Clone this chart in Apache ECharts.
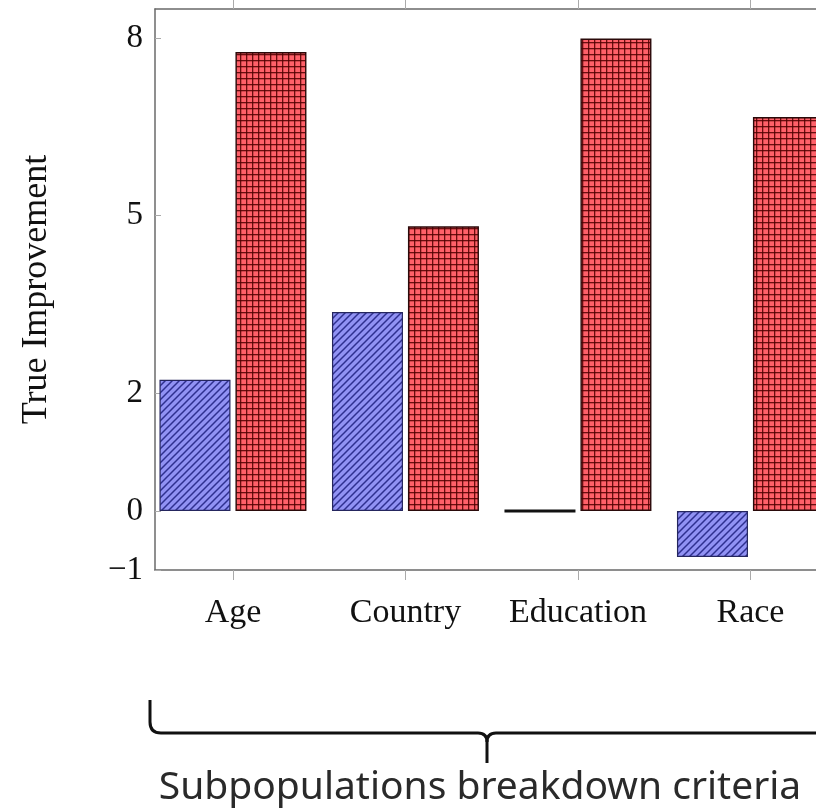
<!DOCTYPE html>
<html>
<head>
<meta charset="utf-8">
<script src="https://cdn.jsdelivr.net/npm/echarts@6/dist/echarts.min.js"></script>
<style>
html,body{margin:0;padding:0;background:#fff;overflow:hidden;}
#chart{width:816px;height:811px;}
</style>
</head>
<body>
<div id="chart"></div>
<script>
// ---- data ----
const categories = ['Age', 'Country', 'Education', 'Race'];
const blueValues = [2.22, 3.37, 0, -0.78];
const redValues = [7.77, 4.82, 8.0, 6.67];
const yTickValues = [-1, 0, 2, 5, 8];
const yAxisTitle = 'True Improvement';
const annotation = 'Subpopulations breakdown criteria';

// ---- patterns ----
function hatchPattern() {
  const s = 7;
  const c = document.createElement('canvas');
  c.width = s; c.height = s;
  const g = c.getContext('2d');
  g.fillStyle = '#9192f4';
  g.fillRect(0, 0, s, s);
  g.strokeStyle = '#2f3090';
  g.lineWidth = 1.5;
  g.beginPath();
  g.moveTo(-1, s + 1); g.lineTo(s + 1, -1);
  g.moveTo(-1, 1); g.lineTo(1, -1);
  g.moveTo(s - 1, s + 1); g.lineTo(s + 1, s - 1);
  g.stroke();
  return c;
}
function gridPattern() {
  const s = 12;
  const c = document.createElement('canvas');
  c.width = s; c.height = s;
  const g = c.getContext('2d');
  g.fillStyle = '#ff6069';
  g.fillRect(0, 0, s, s);
  g.fillStyle = 'rgba(80,0,0,0.85)';
  g.fillRect(0, 0, s, 1.3);
  g.fillRect(0, 6, s, 1.3);
  g.fillRect(0, 0, 1.3, s);
  g.fillRect(6, 0, 1.3, s);
  return c;
}

const chart = echarts.init(document.getElementById('chart'), null, {renderer: 'canvas'});
const xMin = -0.452, xMax = 3.38;
const idx = categories.map((c, i) => i);
const serif = 'Liberation Serif';
const braceStyle = {stroke: '#111', lineWidth: 3, fill: null};

function barItems(values) {
  return values.map((v, i) => v === 0
    ? {value: [i, v], itemStyle: {borderColor: '#111', borderWidth: 3}}
    : {value: [i, v]});
}

const option = {
  animation: false,
  grid: {left: 155, right: 0, top: 9, bottom: 241, containLabel: false},
  xAxis: [
    {
      type: 'value', min: xMin, max: xMax, position: 'bottom',
      axisLine: {show: true, onZero: false, lineStyle: {color: '#6a6a6a', width: 1.5}},
      axisTick: {show: true, inside: false, length: 10, customValues: idx, lineStyle: {color: '#aaaaaa', width: 1}},
      axisLabel: {show: true, customValues: idx, margin: 26, fontFamily: serif, fontSize: 34, color: '#111',
        formatter: v => categories[Math.round(v)] || ''},
      splitLine: {show: false}
    },
    {
      type: 'value', min: xMin, max: xMax, position: 'top',
      axisLine: {show: true, onZero: false, lineStyle: {color: '#6a6a6a', width: 1.5}},
      axisTick: {show: true, inside: false, length: 10, customValues: idx, lineStyle: {color: '#aaaaaa', width: 1}},
      axisLabel: {show: false},
      splitLine: {show: false}
    }
  ],
  yAxis: {
    type: 'value', min: -1, max: 8.5,
    name: yAxisTitle, nameLocation: 'middle', nameGap: 100, nameRotate: 90,
    nameTextStyle: {fontFamily: serif, fontSize: 36, color: '#111'},
    axisLine: {show: true, onZero: false, lineStyle: {color: '#6a6a6a', width: 1.5}},
    axisTick: {show: true, inside: true, length: 6, customValues: yTickValues, lineStyle: {color: '#aaaaaa', width: 1}},
    axisLabel: {show: true, customValues: yTickValues, margin: 12, fontFamily: serif, fontSize: 33, color: '#111',
      formatter: v => String(v).replace('-', '\u2212')},
    splitLine: {show: false}
  },
  series: [
    {
      name: 'Blue', type: 'bar', xAxisIndex: 0,
      data: barItems(blueValues),
      barWidth: 71, barGap: '7%',
      itemStyle: {color: {image: hatchPattern(), repeat: 'repeat'}, borderColor: '#25265e', borderWidth: 1.2}
    },
    {
      name: 'Red', type: 'bar', xAxisIndex: 0,
      data: barItems(redValues),
      barWidth: 71, barGap: '7%',
      itemStyle: {color: {image: gridPattern(), repeat: 'repeat'}, borderColor: '#2a0a0a', borderWidth: 1.4}
    }
  ],
  graphic: [
    {type: 'line', shape: {x1: 150, y1: 700, x2: 150, y2: 722}, style: braceStyle},
    {type: 'bezierCurve', shape: {x1: 150, y1: 722, cpx1: 150, cpy1: 733, x2: 161, y2: 733}, style: braceStyle},
    {type: 'line', shape: {x1: 161, y1: 733, x2: 478, y2: 733}, style: braceStyle},
    {type: 'bezierCurve', shape: {x1: 478, y1: 733, cpx1: 487, cpy1: 733, x2: 487, y2: 742}, style: braceStyle},
    {type: 'line', shape: {x1: 487, y1: 742, x2: 487, y2: 763}, style: braceStyle},
    {type: 'bezierCurve', shape: {x1: 496, y1: 733, cpx1: 487, cpy1: 733, x2: 487, y2: 742}, style: braceStyle},
    {type: 'line', shape: {x1: 496, y1: 733, x2: 830, y2: 733}, style: braceStyle},
    {
      type: 'text', x: 480, y: 768,
      style: {text: annotation, align: 'center', verticalAlign: 'top', fontFamily: 'Noto Sans', fontSize: 39, fill: '#2a2a2a'}
    }
  ]
};
chart.setOption(option);
</script>
</body>
</html>
